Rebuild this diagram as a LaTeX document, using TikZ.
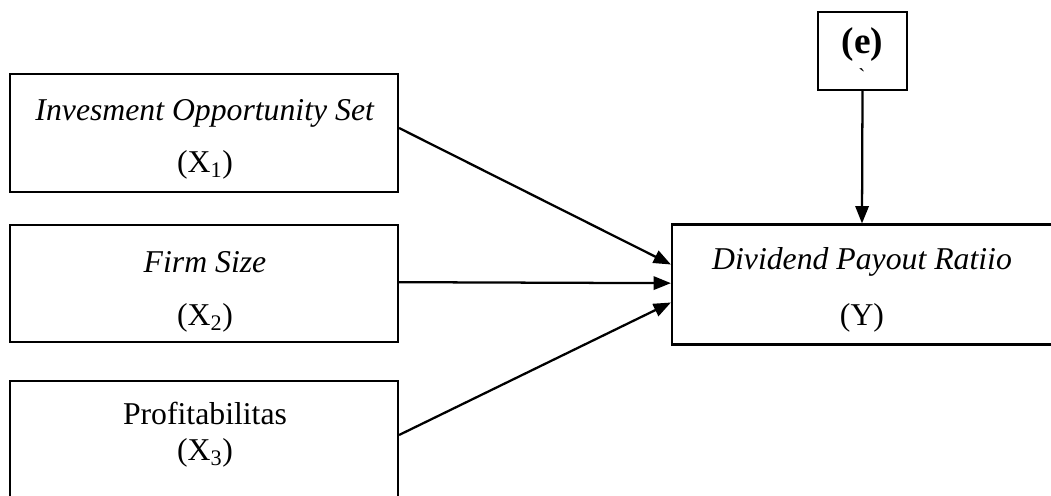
\documentclass[tikz,border=0pt]{standalone}
\usepackage{fontspec}
\setmainfont{Liberation Serif}
\newfontfamily\gravefont{Liberation Serif}
\usetikzlibrary{arrows.meta}

\begin{document}
\begin{tikzpicture}[x=0.75pt,y=-0.75pt,
					box/.style={draw, rectangle, line width=1.6pt, inner sep=0pt},
					arr/.style={line width=1.7pt, -{Triangle[length=13pt,width=10pt]}}]
					\tikzstyle{every node}=[font=\fontsize{23.8}{28}\selectfont]
					\useasboundingbox (0,0) rectangle (1051,496);
					
					% boxes
					\node[box, minimum width=291pt, minimum height=88.5pt] (X1) at (204,133) {};
					\node[box, minimum width=291pt, minimum height=87.75pt] (X2) at (204,283.5) {};
					\node[box, minimum width=291pt, minimum height=88.5pt] (X3) at (204,440) {};
					\node[box, minimum width=285pt, minimum height=90pt] (Y) at (862,284.5) {};
					\node[box, minimum width=66.75pt, minimum height=58.5pt] (E) at (862.5,51) {};
					
					% texts
					\node (t1) at (205,113) {\textit{Invesment Opportunity Set}};
					\node (s1) at (205,165) {(X\textsubscript{1})};
					\node (t2) at (205,262) {\textit{Firm Size}};
					\node (s2) at (205,318) {(X\textsubscript{2})};
					\node (t3) at (205,413) {Profitabilitas};
					\node (s3) at (205,453) {(X\textsubscript{3})};
					\node (ty) at (862,262) {\textit{Dividend Payout Ratiio}};
					\node (sy) at (862,318) {(Y)};
					\node[font=\fontsize{28}{32}\selectfont\bfseries] (te) at (862.5,45) {(e)};
					\node[font=\fontsize{16}{18}\gravefont] (ge) at (862,76) {\char96};
					
					% arrows
					\draw[arr] ([yshift=3.75pt]X1.east) -- ([yshift=15pt]Y.west);
					\draw[arr] ([yshift=1pt]X2.east) -- ([yshift=1pt]Y.west);
					\draw[arr] ([yshift=3.75pt]X3.east) -- ([yshift=-13.5pt]Y.west);
					\draw[arr] (E.south) -- (Y.north);
				\end{tikzpicture}
\end{document}
